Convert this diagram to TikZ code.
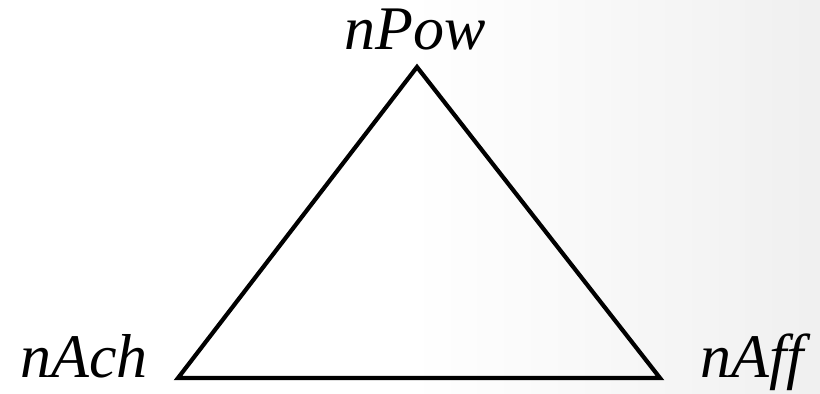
\documentclass[tikz,border=0pt]{standalone}
\usepackage{fontspec}
\setmainfont{Liberation Serif}
\usetikzlibrary{positioning}

\begin{document}
\begin{tikzpicture}[
  x=0.5pt,y=-0.5pt,
  lbl/.style={font=\fontsize{31}{36}\selectfont\itshape,inner sep=0pt,anchor=base},
  tri/.style={draw=black,line width=2.1pt,line join=miter}
]
  \useasboundingbox (0,0) rectangle (820,393);
  \shade[left color=white,right color=black!6,middle color=white] (0,0) rectangle (820,393);
  \coordinate (top) at (417,67);
  \coordinate (left) at (178,378);
  \coordinate (right) at (660,378);
  \node[lbl](pow) at (415,49) {nPow};
  \node[lbl](ach) at (84,377) {nAch};
  \node[lbl](aff) at (752,377) {nAff};
  \draw[tri](top)--(right)--(left)--cycle;
\end{tikzpicture}
\end{document}
